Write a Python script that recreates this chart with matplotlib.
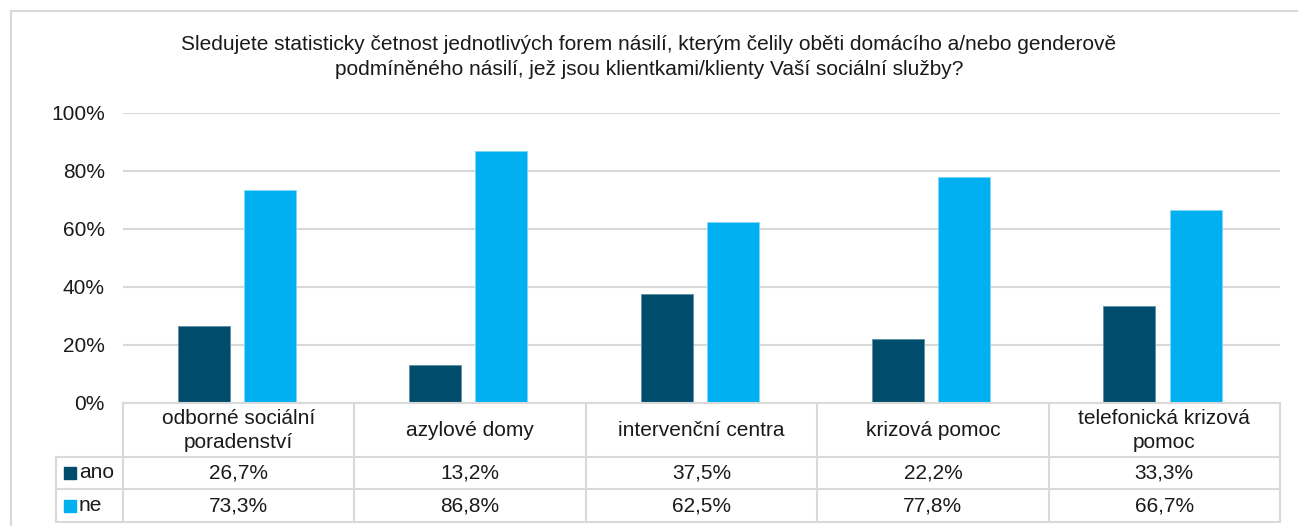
import matplotlib
matplotlib.use("Agg")
import matplotlib.pyplot as plt
from matplotlib.lines import Line2D
from matplotlib.patches import Rectangle
import numpy as np

plt.rcParams['font.family'] = ['Liberation Sans', 'DejaVu Sans']

title = ("Sledujete statisticky četnost jednotlivých forem násilí, kterým čelily oběti domácího a/nebo genderově\n"
         "podmíněného násilí, jež jsou klientkami/klienty Vaší sociální služby?")
categories = ["odborné sociální\nporadenství", "azylové domy", "intervenční centra",
              "krizová pomoc", "telefonická krizová\npomoc"]
series_names = ["ano", "ne"]
ano = [26.7, 13.2, 37.5, 22.2, 33.3]
ne = [73.3, 86.8, 62.5, 77.8, 66.7]
yticks = [0, 20, 40, 60, 80, 100]
colors = ["#004C6D", "#00B0F0"]

W, H = 1298, 526
fig = plt.figure(figsize=(W / 100, H / 100), dpi=100)

def fx(x):
    return x / W

def fy(y):
    return 1 - y / H

# plot area
L, R, T, B = 123, 1280, 113, 403
ax = fig.add_axes([fx(L), fy(B), fx(R) - fx(L), fy(T) - fy(B)])
n = len(categories)
x = np.arange(n)
bw = 0.225
off = 0.143
ax.bar(x - off - 0.008, ano, bw, color=colors[0], zorder=3, edgecolor='#5f8fa5', linewidth=0.6)
ax.bar(x + off - 0.008, ne, bw, color=colors[1], zorder=3, edgecolor='#7fd6f7', linewidth=0.6)
ax.set_xlim(-0.5, n - 0.5)
ax.set_ylim(0, 100)
ax.set_yticks(yticks)
ax.set_yticklabels([f"{v}%" for v in yticks], fontsize=15, color='#1a1a1a')
ax.tick_params(axis='y', length=0, pad=13)
ax.set_xticks([])
for s in ax.spines.values():
    s.set_visible(False)
ax.grid(axis='y', color='#d9d9d9', linewidth=1.5, zorder=0)

# title
fig.text(fx(649), fy(57), title, ha='center', va='center',
         fontsize=15, linespacing=1.4, color='#1a1a1a')

# outer border
fig.add_artist(Rectangle((fx(11), fy(530)), fx(1300) - fx(11), fy(11) - fy(530),
                         transform=fig.transFigure, fill=False,
                         edgecolor='#d9d9d9', linewidth=1.5))

# data table
lc = '#d9d9d9'
lw = 1.5
def hline(y, x0, x1):
    fig.add_artist(Line2D([fx(x0), fx(x1)], [fy(y), fy(y)], transform=fig.transFigure,
                          color=lc, linewidth=lw))

def vline(x0, y0, y1):
    fig.add_artist(Line2D([fx(x0), fx(x0)], [fy(y0), fy(y1)], transform=fig.transFigure,
                          color=lc, linewidth=lw))

rows = [403, 457, 489, 522]
KL = 56
hline(rows[0], L, R)
for yv in rows[1:]:
    hline(yv, KL, R)
vline(KL, rows[1], rows[3])
cw = (R - L) / n
for i in range(n + 1):
    vline(L + i * cw, rows[0], rows[3])

for i, c in enumerate(categories):
    cx = L + (i + 0.5) * cw
    fig.text(fx(cx), fy((rows[0] + rows[1]) / 2 + 0.5), c, ha='center', va='center',
             fontsize=15, linespacing=1.38, color='#1a1a1a')
    fig.text(fx(cx), fy((rows[1] + rows[2]) / 2), f"{ano[i]:.1f}%".replace('.', ','),
             ha='center', va='center', fontsize=15, color='#1a1a1a')
    fig.text(fx(cx), fy((rows[2] + rows[3]) / 2), f"{ne[i]:.1f}%".replace('.', ','),
             ha='center', va='center', fontsize=15, color='#1a1a1a')

for j, name in enumerate(series_names):
    yc = (rows[j + 1] + rows[j + 2]) / 2
    fig.add_artist(Rectangle((fx(64), fy(yc + 6)), fx(76) - fx(64), fy(yc - 6) - fy(yc + 6),
                             transform=fig.transFigure, color=colors[j]))
    fig.text(fx(79), fy(yc), name, ha='left', va='center', fontsize=15, color='#1a1a1a')

fig.savefig("out.png", dpi=100)
